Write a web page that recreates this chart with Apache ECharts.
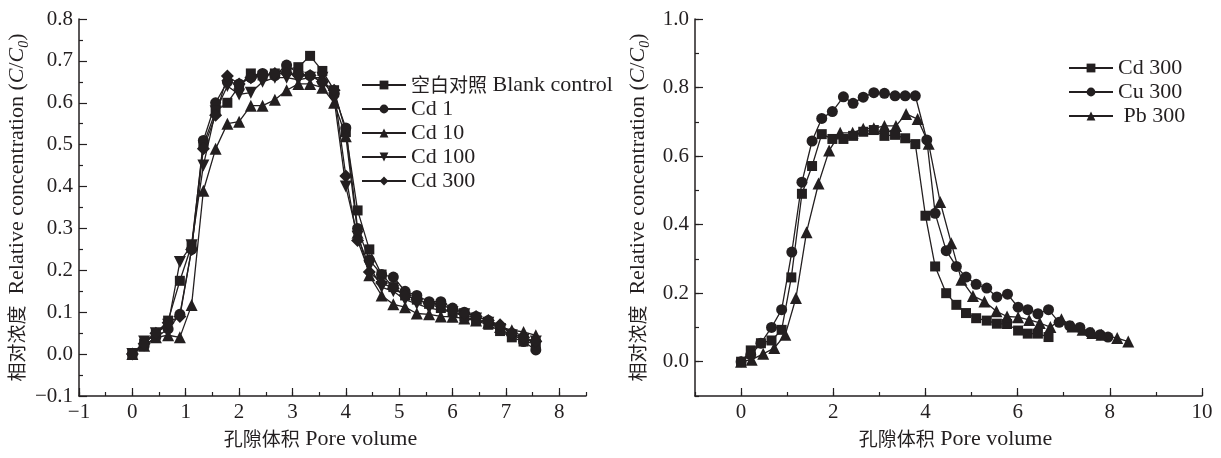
<!DOCTYPE html>
<html>
<head>
<meta charset="utf-8">
<script src="https://cdn.jsdelivr.net/npm/echarts@6/dist/echarts.min.js"></script>
<style>
  html, body { margin: 0; padding: 0; background: #fff; }
  #chart { width: 1221px; height: 458px; }
</style>
</head>
<body>
<div id="chart"></div>
<script>
// left panel: Cd concentrations, pore volume vs C/C0
var poreL = [0, 0.22, 0.44, 0.67, 0.89, 1.11, 1.33, 1.56, 1.78, 2.00, 2.22, 2.44, 2.67, 2.89, 3.11, 3.33, 3.56, 3.78, 4.00, 4.22, 4.44, 4.67, 4.89, 5.11, 5.33, 5.56, 5.78, 6.00, 6.22, 6.44, 6.67, 6.89, 7.11, 7.33, 7.56];
var blankY = [0, 0.025, 0.05, 0.08, 0.175, 0.26, 0.50, 0.58, 0.60, 0.64, 0.67, 0.665, 0.67, 0.68, 0.685, 0.712, 0.676, 0.63, 0.53, 0.343, 0.25, 0.19, 0.16, 0.14, 0.13, 0.12, 0.11, 0.10, 0.09, 0.08, 0.07, 0.055, 0.04, 0.03, 0.025];
var cd1Y = [0, 0.02, 0.04, 0.06, 0.095, 0.25, 0.51, 0.60, 0.65, 0.645, 0.66, 0.67, 0.665, 0.69, 0.67, 0.665, 0.65, 0.62, 0.54, 0.30, 0.225, 0.19, 0.184, 0.15, 0.14, 0.125, 0.125, 0.11, 0.10, 0.09, 0.08, 0.065, 0.05, 0.03, 0.01];
var cd10Y = [0, 0.02, 0.04, 0.045, 0.04, 0.117, 0.39, 0.49, 0.55, 0.555, 0.593, 0.593, 0.607, 0.63, 0.645, 0.645, 0.636, 0.60, 0.52, 0.29, 0.188, 0.14, 0.119, 0.112, 0.097, 0.095, 0.09, 0.089, 0.085, 0.08, 0.075, 0.065, 0.057, 0.053, 0.045];
var cd100Y = [0, 0.03, 0.05, 0.07, 0.22, 0.26, 0.45, 0.58, 0.64, 0.62, 0.624, 0.65, 0.66, 0.66, 0.655, 0.66, 0.66, 0.61, 0.40, 0.28, 0.21, 0.16, 0.15, 0.13, 0.12, 0.11, 0.105, 0.10, 0.095, 0.085, 0.075, 0.06, 0.045, 0.035, 0.03];
var cd300Y = [0, 0.025, 0.05, 0.075, 0.09, 0.25, 0.49, 0.57, 0.664, 0.645, 0.66, 0.665, 0.67, 0.67, 0.665, 0.665, 0.65, 0.63, 0.425, 0.271, 0.196, 0.17, 0.157, 0.14, 0.13, 0.12, 0.12, 0.105, 0.097, 0.09, 0.08, 0.07, 0.05, 0.04, 0.03];

// right panel: Cd / Cu / Pb at 300
var cdRX = [0, 0.21, 0.43, 0.66, 0.88, 1.09, 1.32, 1.54, 1.75, 1.98, 2.22, 2.43, 2.65, 2.88, 3.11, 3.34, 3.56, 3.78, 4.00, 4.21, 4.45, 4.67, 4.88, 5.10, 5.33, 5.55, 5.77, 6.01, 6.22, 6.44, 6.67];
var cdRY = [0, 0.033, 0.054, 0.062, 0.093, 0.246, 0.49, 0.571, 0.664, 0.65, 0.65, 0.659, 0.671, 0.676, 0.659, 0.662, 0.652, 0.635, 0.426, 0.278, 0.20, 0.166, 0.142, 0.127, 0.12, 0.111, 0.11, 0.091, 0.082, 0.082, 0.072];
var cuRX = [0, 0.21, 0.43, 0.66, 0.88, 1.10, 1.32, 1.54, 1.75, 1.98, 2.22, 2.43, 2.65, 2.88, 3.11, 3.34, 3.56, 3.78, 4.03, 4.21, 4.45, 4.67, 4.88, 5.10, 5.33, 5.55, 5.78, 6.01, 6.22, 6.44, 6.67, 6.90, 7.13, 7.35, 7.57, 7.79, 7.96];
var cuRY = [0, 0.02, 0.054, 0.10, 0.152, 0.32, 0.524, 0.644, 0.71, 0.73, 0.773, 0.754, 0.772, 0.785, 0.783, 0.776, 0.776, 0.776, 0.647, 0.433, 0.324, 0.278, 0.247, 0.226, 0.215, 0.189, 0.197, 0.159, 0.152, 0.14, 0.152, 0.115, 0.105, 0.10, 0.085, 0.079, 0.072];
var pbRX = [0, 0.23, 0.48, 0.72, 0.96, 1.19, 1.42, 1.68, 1.91, 2.15, 2.42, 2.65, 2.88, 3.11, 3.36, 3.58, 3.83, 4.07, 4.32, 4.56, 4.78, 5.03, 5.28, 5.54, 5.77, 6.01, 6.25, 6.48, 6.71, 6.95, 7.19, 7.41, 7.62, 7.82, 8.16, 8.40];
var pbRY = [0, 0.006, 0.023, 0.04, 0.079, 0.186, 0.378, 0.52, 0.616, 0.668, 0.668, 0.68, 0.681, 0.688, 0.688, 0.723, 0.708, 0.636, 0.466, 0.346, 0.239, 0.192, 0.176, 0.147, 0.132, 0.13, 0.122, 0.113, 0.101, 0.124, 0.103, 0.093, 0.084, 0.079, 0.069, 0.059];

var leftMajorX = [-1, 0, 1, 2, 3, 4, 5, 6, 7, 8];
var rightMajorX = [0, 2, 4, 6, 8, 10];
var rightMajorY = [0, 0.2, 0.4, 0.6, 0.8, 1.0];

var FONT = "'Liberation Serif', 'Times New Roman', 'Noto Sans CJK SC', serif";
var CJK = "'Noto Sans CJK SC', sans-serif";
var INK = '#231f20';
var TRI_DOWN = 'path://M0,0 L12,0 L6,10 Z';

function pairs(xs, ys) {
    return ys.map(function (y, i) { return [xs[i], y]; });
}

function minus(s) {
    return String(s).replace('-', '\u2212');
}

var axisText = { color: INK, fontSize: 21, fontFamily: FONT };
var tickLine = { color: INK, width: 1.2 };

function baseAxis(gi, pos, min, max, interval, tickLen, fmt) {
    return {
        type: 'value', gridIndex: gi, position: pos, min: min, max: max, interval: interval,
        axisLine: { show: true, onZero: false, lineStyle: { color: INK, width: 1.5 } },
        axisTick: { show: true, inside: true, length: tickLen, lineStyle: tickLine },
        axisLabel: Object.assign({ formatter: fmt }, axisText),
        splitLine: { show: false }
    };
}

// overlay axis that only draws the longer major ticks
function tickAxis(gi, pos, min, max, majors, len) {
    return {
        type: 'value', gridIndex: gi, position: pos, min: min, max: max,
        axisLine: { show: false, onZero: false },
        axisTick: { show: true, inside: true, length: len, customValues: majors, lineStyle: tickLine },
        axisLabel: { show: false },
        splitLine: { show: false }
    };
}

var yName = '{c|相对浓度}  Relative concentration ({i|C}/{i|C}{s|0})';
var yNameStyle = {
    color: INK, fontSize: 22, fontFamily: FONT, lineHeight: 28,
    rich: {
        c: { fontFamily: CJK, fontSize: 19, color: INK },
        i: { fontStyle: 'italic', fontSize: 22, fontFamily: FONT, color: INK },
        s: { fontStyle: 'italic', fontSize: 14, fontFamily: FONT, color: INK, verticalAlign: 'bottom', lineHeight: 14 }
    }
};
var xName = '{c|孔隙体积} Pore volume';
function xNameStyle(pad) {
    return {
        color: INK, fontSize: 22, fontFamily: FONT, padding: pad,
        rich: { c: { fontFamily: CJK, fontSize: 19, color: INK } }
    };
}

// left axes
var lx = baseAxis(0, 'bottom', -1, 8.5, 0.5, 4, function (v) {
    return Math.abs(v - Math.round(v)) < 1e-6 ? minus(Math.round(v)) : '';
});
lx.axisLabel.margin = 6;
lx.name = xName;
lx.nameLocation = 'middle';
lx.nameGap = 32;
lx.nameTextStyle = xNameStyle([0, 24, 0, 0]);

var ly = baseAxis(0, 'left', -0.1, 0.8, 0.1, 8, function (v) { return minus(v.toFixed(1)); });
ly.axisLabel.margin = 6;
ly.minorTick = { show: true, splitNumber: 2, length: 4, lineStyle: tickLine };
ly.name = yName;
ly.nameLocation = 'middle';
ly.nameRotate = 90;
ly.nameGap = 43;
ly.nameTextStyle = yNameStyle;

// right axes
var rx = baseAxis(1, 'bottom', -1, 10, 1, 4, function (v) {
    var r = Math.round(v);
    return (r >= 0 && r % 2 === 0) ? String(r) : '';
});
rx.axisLabel.margin = 6;
rx.name = xName;
rx.nameLocation = 'middle';
rx.nameGap = 32;
rx.nameTextStyle = xNameStyle([0, 0, 0, 14]);

var ry = baseAxis(1, 'left', -0.1, 1.0, 0.1, 4, function (v) {
    var r = Math.round(v * 10);
    return (r >= 0 && r % 2 === 0) ? (r / 10).toFixed(1) : '';
});
ry.axisLabel.margin = 6;
ry.name = yName;
ry.nameLocation = 'middle';
ry.nameRotate = 90;
ry.nameGap = 43;
ry.nameTextStyle = yNameStyle;

function line(name, data, xi, yi, symbol, size) {
    return {
        name: name, type: 'line', xAxisIndex: xi, yAxisIndex: yi,
        data: data, symbol: symbol, symbolSize: size,
        showSymbol: true, animation: false,
        lineStyle: { color: INK, width: 1.3 },
        itemStyle: { color: INK, borderWidth: 0 },
        emphasis: { disabled: true }
    };
}

var legendBase = {
    orient: 'vertical', padding: 0, itemWidth: 44, itemHeight: 11, itemGap: 0,
    formatter: function (name) {
        return name.replace('空白对照', '{c|空白对照}');
    },
    textStyle: {
        color: INK, fontSize: 22, fontFamily: FONT, lineHeight: 24,
        rich: { c: { fontFamily: CJK, fontSize: 19, color: INK, lineHeight: 24 } }
    },
    inactiveColor: INK, selectedMode: false
};

var option = {
    backgroundColor: '#fff',
    animation: false,
    grid: [
        { left: 79, top: 19, width: 507, height: 377 },
        { left: 695, top: 19, width: 507, height: 377 }
    ],
    xAxis: [lx, tickAxis(0, 'bottom', -1, 8.5, leftMajorX, 8), rx, tickAxis(1, 'bottom', -1, 10, rightMajorX, 8)],
    yAxis: [ly, ry, tickAxis(1, 'left', -0.1, 1.0, rightMajorY, 8)],
    legend: [
        Object.assign({ left: 361, top: 73, data: ['空白对照 Blank control', 'Cd 1', 'Cd 10', 'Cd 100', 'Cd 300'] }, legendBase),
        Object.assign({ left: 1068, top: 56, data: ['Cd 300 ', 'Cu 300', ' Pb 300'] }, legendBase)
    ],
    series: [
        line('空白对照 Blank control', pairs(poreL, blankY), 0, 0, 'rect', 10),
        line('Cd 1', pairs(poreL, cd1Y), 0, 0, 'circle', 11),
        line('Cd 10', pairs(poreL, cd10Y), 0, 0, 'triangle', 12),
        line('Cd 100', pairs(poreL, cd100Y), 0, 0, TRI_DOWN, 12),
        line('Cd 300', pairs(poreL, cd300Y), 0, 0, 'diamond', 13),
        line('Cd 300 ', pairs(cdRX, cdRY), 2, 1, 'rect', 10),
        line('Cu 300', pairs(cuRX, cuRY), 2, 1, 'circle', 11),
        line(' Pb 300', pairs(pbRX, pbRY), 2, 1, 'triangle', 12)
    ]
};

var myChart = echarts.init(document.getElementById('chart'));
myChart.setOption(option, true);
</script>
</body>
</html>
